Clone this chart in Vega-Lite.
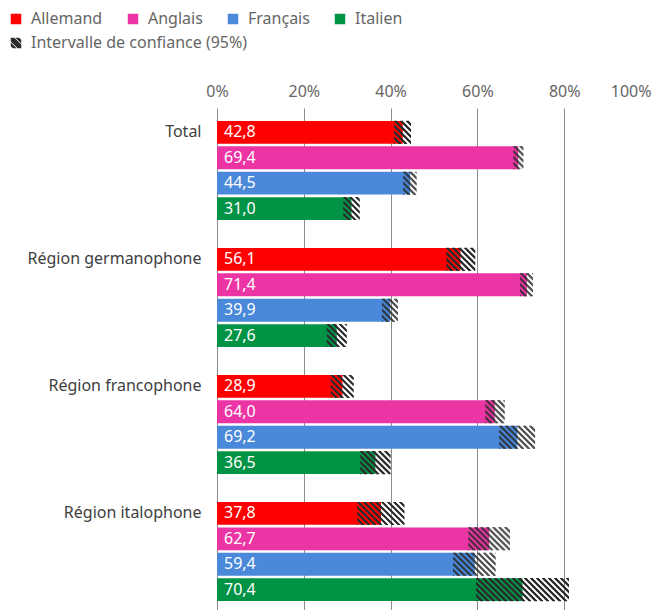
{
  "$schema": "https://vega.github.io/schema/vega-lite/v6.json",
  "autosize": {"type": "none"},
  "padding": {"left": 217, "top": 108, "right": 1, "bottom": 0},
  "width": 434,
  "height": 506,
  "config": {
    "font": "Noto Sans",
    "view": {"stroke": null},
    "locale": {"number": {"decimal": ",", "thousands": "\u00a0", "grouping": [3], "currency": ["", " €"]}}
  },
  "data": {
    "values": [
      {"bar": "Total|Allemand", "region": "Total", "language": "Allemand", "value": 42.8, "lower": 40.8, "upper": 44.7},
      {"bar": "Total|Anglais", "region": "Total", "language": "Anglais", "value": 69.4, "lower": 68.3, "upper": 70.6},
      {"bar": "Total|Français", "region": "Total", "language": "Français", "value": 44.5, "lower": 42.9, "upper": 46.0},
      {"bar": "Total|Italien", "region": "Total", "language": "Italien", "value": 31.0, "lower": 29.1, "upper": 32.9},
      {"bar": "Région germanophone|Allemand", "region": "Région germanophone", "language": "Allemand", "value": 56.1, "lower": 52.8, "upper": 59.5},
      {"bar": "Région germanophone|Anglais", "region": "Région germanophone", "language": "Anglais", "value": 71.4, "lower": 69.8, "upper": 72.8},
      {"bar": "Région germanophone|Français", "region": "Région germanophone", "language": "Français", "value": 39.9, "lower": 38.0, "upper": 41.7},
      {"bar": "Région germanophone|Italien", "region": "Région germanophone", "language": "Italien", "value": 27.6, "lower": 25.3, "upper": 29.9},
      {"bar": "Région francophone|Allemand", "region": "Région francophone", "language": "Allemand", "value": 28.9, "lower": 26.2, "upper": 31.5},
      {"bar": "Région francophone|Anglais", "region": "Région francophone", "language": "Anglais", "value": 64.0, "lower": 61.8, "upper": 66.3},
      {"bar": "Région francophone|Français", "region": "Région francophone", "language": "Français", "value": 69.2, "lower": 65.0, "upper": 73.3},
      {"bar": "Région francophone|Italien", "region": "Région francophone", "language": "Italien", "value": 36.5, "lower": 33.0, "upper": 40.0},
      {"bar": "Région italophone|Allemand", "region": "Région italophone", "language": "Allemand", "value": 37.8, "lower": 32.3, "upper": 43.2},
      {"bar": "Région italophone|Anglais", "region": "Région italophone", "language": "Anglais", "value": 62.7, "lower": 57.9, "upper": 67.5},
      {"bar": "Région italophone|Français", "region": "Région italophone", "language": "Français", "value": 59.4, "lower": 54.4, "upper": 64.2},
      {"bar": "Région italophone|Italien", "region": "Région italophone", "language": "Italien", "value": 70.4, "lower": 59.7, "upper": 81.1}
    ]
  },
  "encoding": {
    "y": {
      "field": "bar", "type": "nominal",
      "scale": {
        "domain": ["Total|Allemand", "Total|Anglais", "Total|Français", "Total|Italien", "gap1",
                   "Région germanophone|Allemand", "Région germanophone|Anglais", "Région germanophone|Français", "Région germanophone|Italien", "gap2",
                   "Région francophone|Allemand", "Région francophone|Anglais", "Région francophone|Français", "Région francophone|Italien", "gap3",
                   "Région italophone|Allemand", "Région italophone|Anglais", "Région italophone|Français", "Région italophone|Italien"],
        "paddingInner": 0.1, "paddingOuter": 0.51
      },
      "axis": {
        "title": null, "domain": false, "ticks": false, "labelPadding": 16, "labelFontSize": 16, "labelColor": "#404040", "labelLimit": 300,
        "labelExpr": "indexof(datum.value, '|Allemand') > 0 ? split(datum.value, '|')[0] : ''"
      }
    },
    "x": {
      "field": "value", "type": "quantitative",
      "scale": {"domain": [0, 100], "nice": false},
      "axis": {
        "orient": "top", "title": null, "domain": false, "ticks": false,
        "values": [0, 20, 40, 60, 80, 100],
        "labelExpr": "datum.value + '%'",
        "labelFontSize": 16, "labelColor": "#666666", "labelPadding": 9,
        "labelAlign": {"condition": {"test": "datum.value >= 100", "value": "right"}, "value": "center"},
        "gridColor": "#8c8c8c", "gridOpacity": {"condition": {"test": "datum.value >= 100", "value": 0}, "value": 1}
      }
    }
  },
  "layer": [
    {
      "mark": {"type": "bar"},
      "encoding": {
        "color": {
          "field": "language", "type": "nominal",
          "scale": {
            "domain": ["Allemand", "Anglais", "Français", "Italien"],
            "range": ["#ff0000", "#ec35a4", "#4a88d9", "#009345"]
          },
          "legend": {
            "title": null, "orient": "none", "legendX": -209, "legendY": -97, "direction": "horizontal",
            "columnPadding": 22, "symbolType": "square", "symbolSize": 110, "symbolStrokeWidth": 0,
            "labelFontSize": 16, "labelColor": "#666666", "labelOffset": 7, "labelLimit": 400, "padding": 0
          }
        }
      }
    },
    {"mark": {"type": "rule", "color": "#2b2b2b", "strokeWidth": 1.05, "strokeCap": "butt", "strokeDash": [3, 3], "strokeDashOffset": 0, "yOffset": -11},
     "encoding": {"x": {"field": "lower", "type": "quantitative"}, "x2": {"field": "upper"},
       "strokeDash": {"datum": "Intervalle de confiance (95%)", "type": "nominal", "scale": {"range": [[3, 3]]},
         "legend": {
           "title": null, "orient": "none", "legendX": -209, "legendY": -73, "padding": 0,
           "symbolType": "M-1,-1L-0.3,-1L1,0.3L1,1L0.3,1L-1,-0.3Z M-0.1,-1L0.6,-1L1,-0.6L1,0.1Z M-1,-0.1L-1,0.6L-0.6,1L0.1,1Z",
           "symbolSize": 110, "symbolFillColor": "#2b2b2b", "symbolStrokeWidth": 0,
           "labelFontSize": 16, "labelColor": "#666666", "labelOffset": 7, "labelLimit": 400,
           "encode": {"symbols": {"update": {"fill": {"value": "#2b2b2b"}, "strokeWidth": {"value": 0}, "shape": {"value": "M-1,-1L-0.3,-1L1,0.3L1,1L0.3,1L-1,-0.3Z M-0.1,-1L0.6,-1L1,-0.6L1,0.1Z M-1,-0.1L-1,0.6L-0.6,1L0.1,1Z"}}}}
         }}}},
    {"mark": {"type": "rule", "color": "#2b2b2b", "strokeWidth": 1.05, "strokeCap": "butt", "strokeDash": [3, 3], "strokeDashOffset": -1, "yOffset": -10}, "encoding": {"x": {"field": "lower", "type": "quantitative"}, "x2": {"field": "upper"}}},
    {"mark": {"type": "rule", "color": "#2b2b2b", "strokeWidth": 1.05, "strokeCap": "butt", "strokeDash": [3, 3], "strokeDashOffset": -2, "yOffset": -9}, "encoding": {"x": {"field": "lower", "type": "quantitative"}, "x2": {"field": "upper"}}},
    {"mark": {"type": "rule", "color": "#2b2b2b", "strokeWidth": 1.05, "strokeCap": "butt", "strokeDash": [3, 3], "strokeDashOffset": -3, "yOffset": -8}, "encoding": {"x": {"field": "lower", "type": "quantitative"}, "x2": {"field": "upper"}}},
    {"mark": {"type": "rule", "color": "#2b2b2b", "strokeWidth": 1.05, "strokeCap": "butt", "strokeDash": [3, 3], "strokeDashOffset": -4, "yOffset": -7}, "encoding": {"x": {"field": "lower", "type": "quantitative"}, "x2": {"field": "upper"}}},
    {"mark": {"type": "rule", "color": "#2b2b2b", "strokeWidth": 1.05, "strokeCap": "butt", "strokeDash": [3, 3], "strokeDashOffset": -5, "yOffset": -6}, "encoding": {"x": {"field": "lower", "type": "quantitative"}, "x2": {"field": "upper"}}},
    {"mark": {"type": "rule", "color": "#2b2b2b", "strokeWidth": 1.05, "strokeCap": "butt", "strokeDash": [3, 3], "strokeDashOffset": -6, "yOffset": -5}, "encoding": {"x": {"field": "lower", "type": "quantitative"}, "x2": {"field": "upper"}}},
    {"mark": {"type": "rule", "color": "#2b2b2b", "strokeWidth": 1.05, "strokeCap": "butt", "strokeDash": [3, 3], "strokeDashOffset": -7, "yOffset": -4}, "encoding": {"x": {"field": "lower", "type": "quantitative"}, "x2": {"field": "upper"}}},
    {"mark": {"type": "rule", "color": "#2b2b2b", "strokeWidth": 1.05, "strokeCap": "butt", "strokeDash": [3, 3], "strokeDashOffset": -8, "yOffset": -3}, "encoding": {"x": {"field": "lower", "type": "quantitative"}, "x2": {"field": "upper"}}},
    {"mark": {"type": "rule", "color": "#2b2b2b", "strokeWidth": 1.05, "strokeCap": "butt", "strokeDash": [3, 3], "strokeDashOffset": -9, "yOffset": -2}, "encoding": {"x": {"field": "lower", "type": "quantitative"}, "x2": {"field": "upper"}}},
    {"mark": {"type": "rule", "color": "#2b2b2b", "strokeWidth": 1.05, "strokeCap": "butt", "strokeDash": [3, 3], "strokeDashOffset": -10, "yOffset": -1}, "encoding": {"x": {"field": "lower", "type": "quantitative"}, "x2": {"field": "upper"}}},
    {"mark": {"type": "rule", "color": "#2b2b2b", "strokeWidth": 1.05, "strokeCap": "butt", "strokeDash": [3, 3], "strokeDashOffset": -11, "yOffset": 0}, "encoding": {"x": {"field": "lower", "type": "quantitative"}, "x2": {"field": "upper"}}},
    {"mark": {"type": "rule", "color": "#2b2b2b", "strokeWidth": 1.05, "strokeCap": "butt", "strokeDash": [3, 3], "strokeDashOffset": -12, "yOffset": 1}, "encoding": {"x": {"field": "lower", "type": "quantitative"}, "x2": {"field": "upper"}}},
    {"mark": {"type": "rule", "color": "#2b2b2b", "strokeWidth": 1.05, "strokeCap": "butt", "strokeDash": [3, 3], "strokeDashOffset": -13, "yOffset": 2}, "encoding": {"x": {"field": "lower", "type": "quantitative"}, "x2": {"field": "upper"}}},
    {"mark": {"type": "rule", "color": "#2b2b2b", "strokeWidth": 1.05, "strokeCap": "butt", "strokeDash": [3, 3], "strokeDashOffset": -14, "yOffset": 3}, "encoding": {"x": {"field": "lower", "type": "quantitative"}, "x2": {"field": "upper"}}},
    {"mark": {"type": "rule", "color": "#2b2b2b", "strokeWidth": 1.05, "strokeCap": "butt", "strokeDash": [3, 3], "strokeDashOffset": -15, "yOffset": 4}, "encoding": {"x": {"field": "lower", "type": "quantitative"}, "x2": {"field": "upper"}}},
    {"mark": {"type": "rule", "color": "#2b2b2b", "strokeWidth": 1.05, "strokeCap": "butt", "strokeDash": [3, 3], "strokeDashOffset": -16, "yOffset": 5}, "encoding": {"x": {"field": "lower", "type": "quantitative"}, "x2": {"field": "upper"}}},
    {"mark": {"type": "rule", "color": "#2b2b2b", "strokeWidth": 1.05, "strokeCap": "butt", "strokeDash": [3, 3], "strokeDashOffset": -17, "yOffset": 6}, "encoding": {"x": {"field": "lower", "type": "quantitative"}, "x2": {"field": "upper"}}},
    {"mark": {"type": "rule", "color": "#2b2b2b", "strokeWidth": 1.05, "strokeCap": "butt", "strokeDash": [3, 3], "strokeDashOffset": -18, "yOffset": 7}, "encoding": {"x": {"field": "lower", "type": "quantitative"}, "x2": {"field": "upper"}}},
    {"mark": {"type": "rule", "color": "#2b2b2b", "strokeWidth": 1.05, "strokeCap": "butt", "strokeDash": [3, 3], "strokeDashOffset": -19, "yOffset": 8}, "encoding": {"x": {"field": "lower", "type": "quantitative"}, "x2": {"field": "upper"}}},
    {"mark": {"type": "rule", "color": "#2b2b2b", "strokeWidth": 1.05, "strokeCap": "butt", "strokeDash": [3, 3], "strokeDashOffset": -20, "yOffset": 9}, "encoding": {"x": {"field": "lower", "type": "quantitative"}, "x2": {"field": "upper"}}},
    {"mark": {"type": "rule", "color": "#2b2b2b", "strokeWidth": 1.05, "strokeCap": "butt", "strokeDash": [3, 3], "strokeDashOffset": -21, "yOffset": 10}, "encoding": {"x": {"field": "lower", "type": "quantitative"}, "x2": {"field": "upper"}}},
    {"mark": {"type": "rule", "color": "#2b2b2b", "strokeWidth": 1.05, "strokeCap": "butt", "strokeDash": [3, 3], "strokeDashOffset": -22, "yOffset": 11}, "encoding": {"x": {"field": "lower", "type": "quantitative"}, "x2": {"field": "upper"}}},
    {
      "mark": {"type": "text", "align": "left", "baseline": "middle", "dx": 7, "fontSize": 16, "color": "#ffffff"},
      "encoding": {
        "x": {"datum": 0, "type": "quantitative"},
        "text": {"field": "value", "type": "quantitative", "format": ".1f"}
      }
    }
  ]
}
